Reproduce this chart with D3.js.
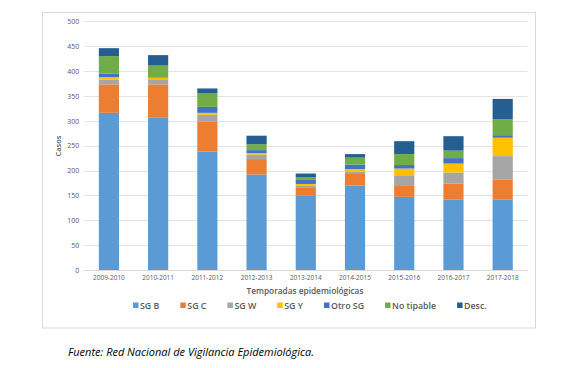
<!DOCTYPE html>
<html><head><meta charset="utf-8">
<script src="https://cdn.jsdelivr.net/npm/d3@7"></script>
<style>body{margin:0;background:#fff}svg{display:block}text{font-family:"Open Sans","Noto Sans",sans-serif}</style>
</head><body><svg id="c" width="578" height="368"></svg>
<script>
const seasons = ["2009-2010","2010-2011","2011-2012","2012-2013","2013-2014","2014-2015","2015-2016","2016-2017","2017-2018"];
const seriesNames = ["SG B","SG C","SG W","SG Y","Otro SG","No tipable","Desc."];
const sgB = [316,306,238,192,149,170,147,142,142];
const sgC = [57,67,60,31,16,23,22,32,40];
const sgW = [10,9,14,9,4,5,20,22,47];
const sgY = [5,4,4,3,4,5,15,18,37];
const otroSG = [7,1,12,6,8,9,7,11,5];
const noTipable = [35,24,27,12,5,14,22,15,32];
const desc = [16,21,10,17,8,7,26,29,41];
const yTicks = [0,50,100,150,200,250,300,350,400,450,500];
const colors = ["#5B9BD5","#ED7D31","#A5A5A5","#FFC000","#4472C4","#70AD47","#255E91"];

const svg = d3.select("#c");
// chart frame
svg.append("rect").attr("x",42.5).attr("y",12.5).attr("width",493).attr("height",315.5)
  .attr("fill","#fff").attr("stroke","#d9d9d9").attr("stroke-width",1);

const m = {l:84.3, r:527.3, t:21.3, b:270};
const x = d3.scaleBand().domain(seasons).range([m.l,m.r]).paddingInner(0.59).paddingOuter(0.295);
const y = d3.scaleLinear().domain([0,500]).range([m.b,m.t]);

// gridlines
svg.append("g").selectAll("line").data(yTicks).join("line")
  .attr("x1",m.l).attr("x2",m.r).attr("y1",d=>Math.round(y(d))+0.5).attr("y2",d=>Math.round(y(d))+0.5)
  .attr("stroke","#e3e3e3").attr("stroke-width",1);

// y axis labels
const ya = svg.append("g").attr("transform",`translate(${m.l-5},0)`)
  .call(d3.axisLeft(y).tickValues(yTicks).tickSize(0).tickPadding(0));
ya.select(".domain").remove();
ya.selectAll("text").attr("font-size",7).attr("fill","#595959").attr("font-family","Open Sans, sans-serif");

// stacked data
const rows = seasons.map((s,i)=>({season:s,"SG B":sgB[i],"SG C":sgC[i],"SG W":sgW[i],"SG Y":sgY[i],"Otro SG":otroSG[i],"No tipable":noTipable[i],"Desc.":desc[i]}));
const stack = d3.stack().keys(seriesNames)(rows);
svg.append("g").selectAll("g").data(stack).join("g").attr("fill",(d,i)=>colors[i])
  .selectAll("rect").data(d=>d).join("rect")
  .attr("x",d=>x(d.data.season)).attr("width",x.bandwidth())
  .attr("y",d=>y(d[1])).attr("height",d=>y(d[0])-y(d[1]));

// x axis
svg.append("line").attr("x1",m.l).attr("x2",m.r).attr("y1",Math.round(m.b)+0.5).attr("y2",Math.round(m.b)+0.5).attr("stroke","#d9d9d9");
const xa = svg.append("g").attr("transform",`translate(0,${m.b+5})`)
  .call(d3.axisBottom(x).tickSize(0).tickPadding(0));
xa.select(".domain").remove();
xa.selectAll("text").attr("font-size",6.5).attr("fill","#595959").attr("font-family","Open Sans, sans-serif");

// axis titles
svg.append("text").attr("x",305).attr("y",294).attr("text-anchor","middle")
  .attr("font-size",8.3).attr("font-weight","600").attr("fill","#595959").text("Temporadas epidemiológicas");
svg.append("text").attr("transform","translate(61,146) rotate(-90)").attr("text-anchor","middle")
  .attr("font-size",7.5).attr("font-weight","600").attr("fill","#595959").text("Casos");

// legend
const lg = svg.append("g");
let lx = 133;
seriesNames.forEach((n,i)=>{
  lg.append("rect").attr("x",lx).attr("y",302.5).attr("width",5.5).attr("height",5.5).attr("fill",colors[i]);
  const t = lg.append("text").attr("x",lx+7).attr("y",308.8).attr("font-size",8.8).attr("font-weight","600")
    .attr("fill","#595959").text(n);
  lx += 7 + t.node().getComputedTextLength() + 21;
});

// footer
svg.append("text").attr("x",68).attr("y",356).attr("font-size",11).attr("font-style","italic")
  .attr("fill","#000").attr("font-family","Open Sans, sans-serif").text("Fuente: Red Nacional de Vigilancia Epidemiológica.");
</script></body></html>
